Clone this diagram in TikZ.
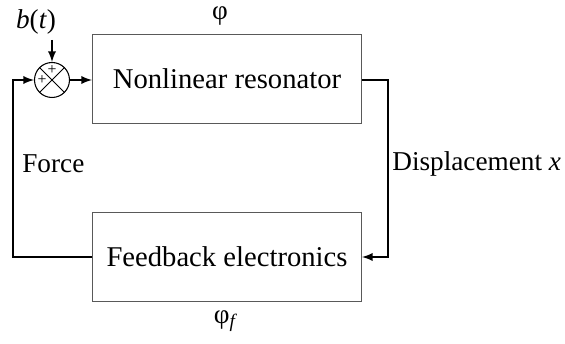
\documentclass[tikz,border=0pt]{standalone}
\usepackage{fontspec}
\setmainfont{Liberation Serif}

\begin{document}
\begin{tikzpicture}[x=0.02cm, y=-0.02cm]
  \tikzstyle{block}=[rectangle, draw=black!65, line width=0.6pt, minimum width=5.38cm, minimum height=1.77cm, font=\fontsize{16.3}{19}\selectfont]
  \tikzstyle{summer}=[circle, draw=black, line width=0.6pt, minimum size=0.7cm, inner sep=0pt]
  \tikzstyle{lbl}=[inner sep=0pt, font=\fontsize{15.5}{18}\selectfont]
  \tikzstyle{sign}=[inner sep=0pt, font=\fontsize{9}{10}\selectfont]
  \tikzstyle{connect}=[-latex, line width=1.1pt]

  \useasboundingbox (0,0) rectangle (565,344);

  \node[block] (res) at (227,79) {Nonlinear resonator};
  \node[block] (fb) at (227,257) {Feedback electronics};
  \node[summer] (sum) at (52,80) {};
  \draw[line width=0.6pt] (sum.45) -- (sum.225) (sum.135) -- (sum.315);
  \node[sign] (plustop) at (52,70) {+};
  \node[sign] (plusleft) at (42,80) {+};

  \node[lbl] (b) at (36,22) {\textit{b}(\textit{t})};
  \coordinate (bin) at (52,40);
  \node[lbl] (phi) at (220,16) {φ};
  \node[lbl] (phif) at (226,321) {φ\textsubscript{\textit{f}}};
  \node[lbl, anchor=west] (force) at (22,164) {Force};
  \node[lbl, anchor=west] (disp) at (392,164) {Displacement \textit{x}};

  \draw[connect] (bin) -- (sum);
  \draw[connect] (sum) -- (res.west |- sum);
  \draw[connect] (res.east |- sum) -- ++(26,0) |- (fb);
  \draw[connect] (fb.west) -- ++(-79,0) |- (sum);
\end{tikzpicture}
\end{document}
